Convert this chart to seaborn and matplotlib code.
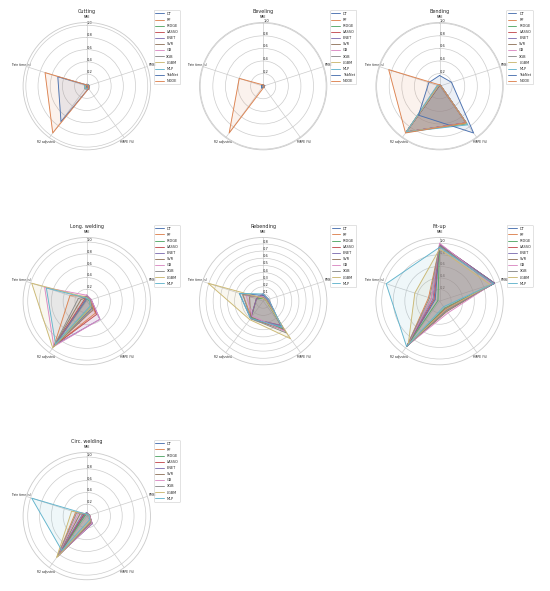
import numpy as np
import matplotlib
matplotlib.use("Agg")
import matplotlib.pyplot as plt
import seaborn as sns

# métricas (eixos do radar)
metricas = ["MAE", "RMSE", "MAPE (%)", "R2 adjusted", "Train time (s)"]

modelos_12 = ["DT", "RF", "RIDGE", "LASSO", "ENET", "SVR", "GB", "XGB", "LGBM", "MLP", "TabNet", "NODE"]
modelos_10 = modelos_12[:10]

# valores normalizados (MAE, RMSE, MAPE, R2 adj, tempo de treino) por modelo
cutting = [
    [0.02, 0.03, 0.04, 0.04, 0.01],
    [0.02, 0.03, 0.04, 0.05, 0.03],
    [0.03, 0.04, 0.05, 0.05, 0.01],
    [0.03, 0.04, 0.05, 0.05, 0.01],
    [0.03, 0.04, 0.06, 0.05, 0.01],
    [0.03, 0.04, 0.06, 0.05, 0.01],
    [0.02, 0.03, 0.05, 0.05, 0.02],
    [0.02, 0.03, 0.05, 0.05, 0.02],
    [0.02, 0.03, 0.05, 0.05, 0.02],
    [0.03, 0.04, 0.05, 0.05, 0.04],
    [0.02, 0.02, 0.05, 0.72, 0.50],
    [0.02, 0.03, 0.05, 0.95, 0.72],
]
beveling = [
    [0.02, 0.02, 0.02, 0.03, 0.01],
    [0.02, 0.02, 0.02, 0.03, 0.02],
    [0.02, 0.02, 0.02, 0.03, 0.01],
    [0.02, 0.02, 0.02, 0.03, 0.01],
    [0.02, 0.02, 0.02, 0.03, 0.01],
    [0.02, 0.02, 0.02, 0.03, 0.01],
    [0.02, 0.02, 0.02, 0.03, 0.02],
    [0.02, 0.02, 0.02, 0.03, 0.02],
    [0.02, 0.02, 0.02, 0.03, 0.02],
    [0.02, 0.02, 0.02, 0.03, 0.03],
    [0.02, 0.03, 0.02, 0.04, 0.03],
    [0.02, 0.02, 0.02, 0.92, 0.40],
]
bending = [
    [0.02, 0.02, 0.72, 0.90, 0.01],
    [0.02, 0.02, 0.73, 0.90, 0.03],
    [0.02, 0.02, 0.74, 0.90, 0.01],
    [0.02, 0.02, 0.72, 0.90, 0.01],
    [0.02, 0.02, 0.72, 0.90, 0.01],
    [0.02, 0.02, 0.72, 0.90, 0.01],
    [0.02, 0.02, 0.72, 0.90, 0.02],
    [0.02, 0.02, 0.73, 0.90, 0.02],
    [0.02, 0.02, 0.73, 0.90, 0.02],
    [0.02, 0.02, 0.76, 0.90, 0.04],
    [0.17, 0.20, 0.92, 0.57, 0.18],
    [0.02, 0.02, 0.72, 0.92, 0.85],
]
long_welding = [
    [0.06, 0.05, 0.15, 0.95, 0.03],
    [0.08, 0.06, 0.25, 0.95, 0.30],
    [0.05, 0.04, 0.12, 0.93, 0.02],
    [0.10, 0.08, 0.28, 0.93, 0.05],
    [0.10, 0.08, 0.38, 0.92, 0.02],
    [0.06, 0.05, 0.18, 0.95, 0.10],
    [0.10, 0.08, 0.38, 0.95, 0.75],
    [0.08, 0.06, 0.15, 0.95, 0.15],
    [0.06, 0.05, 0.12, 0.98, 0.98],
    [0.05, 0.05, 0.10, 0.90, 0.72],
]
rebending = [
    [0.08, 0.06, 0.45, 0.30, 0.35],
    [0.05, 0.05, 0.50, 0.28, 0.30],
    [0.04, 0.04, 0.48, 0.28, 0.10],
    [0.10, 0.08, 0.42, 0.30, 0.10],
    [0.10, 0.08, 0.42, 0.30, 0.10],
    [0.06, 0.05, 0.50, 0.30, 0.20],
    [0.06, 0.05, 0.52, 0.26, 0.25],
    [0.05, 0.05, 0.55, 0.30, 0.30],
    [0.04, 0.04, 0.65, 0.32, 0.81],
    [0.10, 0.08, 0.45, 0.30, 0.35],
]
fit_up = [
    [0.97, 1.00, 0.18, 0.96, 0.08],
    [0.95, 0.98, 0.20, 0.96, 0.20],
    [0.97, 1.00, 0.15, 0.97, 0.03],
    [0.98, 1.00, 0.17, 0.97, 0.10],
    [0.98, 1.00, 0.20, 0.97, 0.12],
    [0.95, 0.97, 0.22, 0.96, 0.15],
    [1.00, 0.95, 0.25, 0.95, 0.15],
    [0.95, 0.97, 0.20, 0.96, 0.18],
    [0.90, 0.92, 0.18, 0.92, 0.45],
    [0.93, 0.98, 0.12, 0.97, 0.97],
]
circ_welding = [
    [0.03, 0.04, 0.12, 0.85, 0.05],
    [0.04, 0.05, 0.12, 0.85, 0.20],
    [0.05, 0.05, 0.15, 0.83, 0.03],
    [0.05, 0.05, 0.15, 0.83, 0.06],
    [0.06, 0.05, 0.16, 0.82, 0.08],
    [0.04, 0.05, 0.14, 0.84, 0.12],
    [0.04, 0.05, 0.15, 0.84, 0.15],
    [0.04, 0.04, 0.12, 0.85, 0.18],
    [0.03, 0.04, 0.10, 0.87, 0.27],
    [0.03, 0.04, 0.08, 0.72, 0.98],
]

processos = [
    ("Cutting", modelos_12, cutting),
    ("Beveling", modelos_12, beveling),
    ("Bending", modelos_12, bending),
    ("Long. welding", modelos_10, long_welding),
    ("Rebending", modelos_10, rebending),
    ("Fit-up", modelos_10, fit_up),
    ("Circ. welding", modelos_10, circ_welding),
]


def radar(ax, titulo, modelos, valores):
    angulos = np.linspace(0, 2 * np.pi, len(metricas), endpoint=False)
    angulos_f = np.concatenate([angulos, angulos[:1]])
    cores = sns.color_palette("deep", 10)
    vals = np.array(valores)
    for i, (nome, linha) in enumerate(zip(modelos, vals)):
        v = np.concatenate([linha, linha[:1]])
        cor = cores[i % 10]
        ax.plot(angulos_f, v, color=cor, linewidth=1.3, label=nome)
        ax.fill(angulos_f, v, color=cor, alpha=0.1)
    ax.set_theta_offset(np.pi / 2)
    ax.set_theta_direction(-1)
    ax.set_xticks(angulos)
    ax.set_xticklabels(metricas, fontsize=4.3)
    ax.tick_params(axis="x", pad=-5)
    ax.set_ylim(0, vals.max() * 1.1)
    ax.set_rlabel_position(0)
    ax.tick_params(axis="y", labelsize=5.3)
    ax.set_title(titulo, fontsize=7, y=1.055, pad=4)
    ax.legend(loc="upper right", bbox_to_anchor=(1.245, 1.11), fontsize=5.1,
              handlelength=2.4, labelspacing=0.6)


sns.set_theme(style="whitegrid")

fig, axes = plt.subplots(3, 3, figsize=(11, 11.82), dpi=50, subplot_kw=dict(polar=True))
fig.subplots_adjust(left=0.042, right=0.915, top=0.962, bottom=0.019, wspace=0.385, hspace=0.687)

for ax, (titulo, modelos, valores) in zip(axes.flat, processos):
    radar(ax, titulo, modelos, valores)

for ax in axes.flat[len(processos):]:
    ax.set_visible(False)

fig.savefig("out.png", dpi=50)
